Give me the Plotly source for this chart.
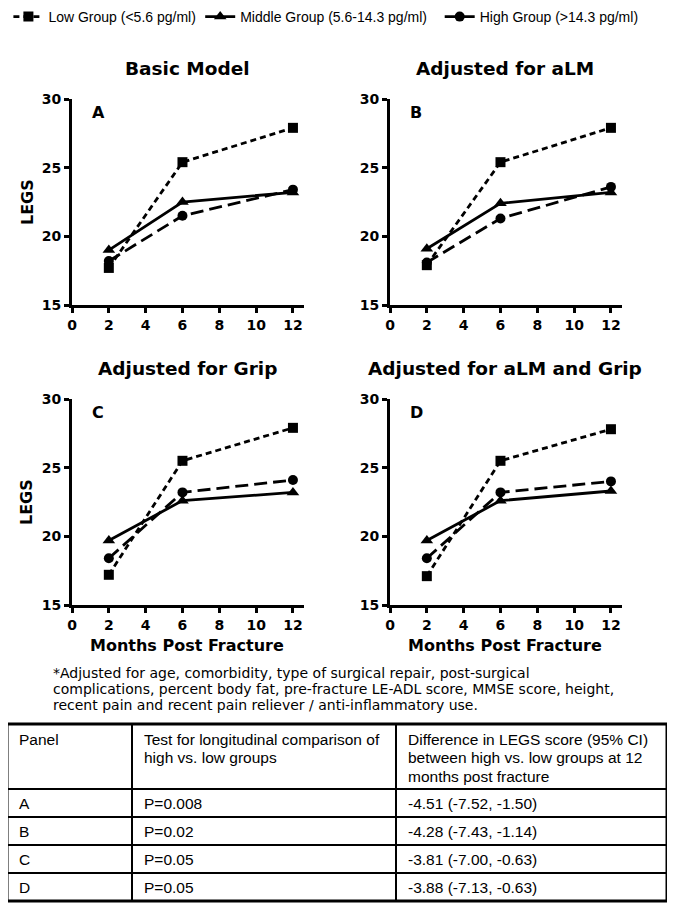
import plotly.graph_objects as go

W, H = 675, 909
OFF = 8  # the page body adds an 8px margin; layout positions below are page pixels

# ---------------- data ----------------
months = [2, 6, 12]
group_names = ["Low Group (<5.6 pg/ml)", "Middle Group (5.6-14.3 pg/ml)", "High Group (>14.3 pg/ml)"]

panel_ids = ["A", "B", "C", "D"]
panel_titles = ["Basic Model", "Adjusted for aLM", "Adjusted for Grip", "Adjusted for aLM and Grip"]

low_A = [17.7, 25.4, 27.9]
mid_A = [19.0, 22.5, 23.2]
high_A = [18.2, 21.5, 23.4]

low_B = [17.9, 25.4, 27.9]
mid_B = [19.1, 22.4, 23.2]
high_B = [18.1, 21.3, 23.6]

low_C = [17.2, 25.5, 27.9]
mid_C = [19.7, 22.6, 23.2]
high_C = [18.4, 23.2, 24.1]

low_D = [17.1, 25.5, 27.8]
mid_D = [19.7, 22.6, 23.3]
high_D = [18.4, 23.2, 24.0]

x_ticks = [0, 2, 4, 6, 8, 10, 12]
y_ticks = [15, 20, 25, 30]

y_title = "LEGS"
x_title = "Months Post Fracture"

footnote_lines = [
    "*Adjusted for age, comorbidity, type of surgical repair, post-surgical",
    "complications, percent body fat, pre-fracture LE-ADL score, MMSE score, height,",
    "recent pain and recent pain reliever / anti-inflammatory use.",
]

table_header = [
    ["Panel"],
    ["Test for longitudinal comparison of", "high vs. low groups"],
    ["Difference in LEGS score (95% CI)", "between high vs. low groups at 12", "months post fracture"],
]
table_panel = ["A", "B", "C", "D"]
table_p = ["P=0.008", "P=0.02", "P=0.05", "P=0.05"]
table_diff = ["-4.51 (-7.52, -1.50)", "-4.28 (-7.43, -1.14)", "-3.81 (-7.00, -0.63)", "-3.88 (-7.13, -0.63)"]

# ---------------- styling ----------------
BOLD = "DejaVu Sans"
REG = "Liberation Sans, Arial, sans-serif"


def px(x):
    return (x - OFF) / W


def py(y):
    return 1 - (y - OFF) / H


series = [
    dict(name=group_names[0], dash="6px,4px", symbol="square", size=10),
    dict(name=group_names[1], dash="solid", symbol="triangle-up", size=11),
    dict(name=group_names[2], dash="13px,6px", symbol="circle", size=10),
]
panel_data = [
    (low_A, mid_A, high_A),
    (low_B, mid_B, high_B),
    (low_C, mid_C, high_C),
    (low_D, mid_D, high_D),
]

# panel pixel boxes: (left, right, top, bottom)
boxes = [(72, 304, 99, 305), (390, 622, 99, 305), (72, 304, 399, 605), (390, 622, 399, 605)]
legend_keys = ["legend", "legend2", "legend3"]

fig = go.Figure()

for p, vals in enumerate(panel_data):
    xa = "x" if p == 0 else f"x{p+1}"
    ya = "y" if p == 0 else f"y{p+1}"
    for k, (s, v) in enumerate(zip(series, vals)):
        fig.add_trace(go.Scatter(
            x=months, y=v, mode="lines+markers", name=s["name"],
            line=dict(color="black", width=2.8, dash=s["dash"]),
            marker=dict(symbol=s["symbol"], size=s["size"], color="black"),
            xaxis=xa, yaxis=ya, showlegend=(p == 0), legend=legend_keys[k],
            cliponaxis=False,
        ))

axis_common = dict(
    showline=True, linewidth=2.8, linecolor="black", mirror=False,
    ticks="outside", ticklen=5, tickwidth=2.8, tickcolor="black",
    showgrid=False, zeroline=False, automargin=False,
    tickfont=dict(family=BOLD, size=14, color="black", weight="bold"),
)

layout = dict(
    width=W, height=H, margin=dict(l=0, r=0, t=0, b=0, autoexpand=False),
    paper_bgcolor="white", plot_bgcolor="white",
)
annotations = []
bold_font = lambda s: dict(family=BOLD, size=s, color="black", weight="bold")
for p, box in enumerate(boxes):
    l, r, t, b = box
    xk = "xaxis" if p == 0 else f"xaxis{p+1}"
    yk = "yaxis" if p == 0 else f"yaxis{p+1}"
    ya = "y" if p == 0 else f"y{p+1}"
    xa = "x" if p == 0 else f"x{p+1}"
    layout[xk] = dict(axis_common, domain=[px(l), px(r)], range=[0, 12.6],
                      tickvals=x_ticks, anchor=ya)
    layout[yk] = dict(axis_common, domain=[py(b), py(t)], range=[15, 30],
                      tickvals=y_ticks, anchor=xa)
    annotations.append(dict(text=panel_titles[p], x=px((l + r) / 2 - 1), y=py(t - 31),
                            xref="paper", yref="paper", showarrow=False,
                            xanchor="center", yanchor="middle", font=bold_font(18.5)))
    annotations.append(dict(text=panel_ids[p], x=px(l + 26), y=py(t + 14),
                            xref="paper", yref="paper", showarrow=False,
                            xanchor="center", yanchor="middle", font=bold_font(16)))
    if p in (0, 2):
        annotations.append(dict(text=y_title, x=px(27), y=py((t + b) / 2),
                                xref="paper", yref="paper", showarrow=False, textangle=-90,
                                xanchor="center", yanchor="middle", font=bold_font(16)))
    if p in (2, 3):
        annotations.append(dict(text=x_title, x=px((l + r) / 2 - 1), y=py(645),
                                xref="paper", yref="paper", showarrow=False,
                                xanchor="center", yanchor="middle", font=bold_font(16)))

for i, line in enumerate(footnote_lines):
    annotations.append(dict(text=line, x=px(51), y=py(673 + 16.2 * i),
                            xref="paper", yref="paper", showarrow=False,
                            xanchor="left", yanchor="middle",
                            font=dict(family="DejaVu Sans", size=14, color="black")))

# ---- table (grid lines as shapes, cell text as annotations) ----
T_L, T_R, T_T, T_B = 7, 667, 724, 901
col_x = [T_L, 132, 396, T_R]
header_h = 65
row_h = 28
row_lines = [T_T + header_h + row_h * i for i in range(4)]
shapes = []
for yl in row_lines:
    shapes.append(dict(type="line", xref="paper", yref="paper", x0=px(T_L), x1=px(T_R),
                       y0=py(yl), y1=py(yl), line=dict(color="black", width=2)))
for xl in col_x[1:3]:
    shapes.append(dict(type="line", xref="paper", yref="paper", x0=px(xl), x1=px(xl),
                       y0=py(T_T), y1=py(T_B), line=dict(color="black", width=2)))
shapes.append(dict(type="rect", xref="paper", yref="paper",
                   x0=px(T_L), x1=px(T_R), y0=py(T_B), y1=py(T_T),
                   line=dict(color="black", width=3), fillcolor="rgba(0,0,0,0)"))

cell_font = dict(family=REG, size=15.5, color="black")
for c, lines in enumerate(table_header):
    for j, txt in enumerate(lines):
        annotations.append(dict(text=txt, x=px(col_x[c] + 9.5), y=py(T_T + 15 + 18.5 * j),
                                xref="paper", yref="paper", showarrow=False,
                                xanchor="left", yanchor="middle", font=cell_font))
for c, col in enumerate([table_panel, table_p, table_diff]):
    for i, txt in enumerate(col):
        annotations.append(dict(text=txt, x=px(col_x[c] + 9.5),
                                y=py(T_T + header_h + row_h * i + row_h / 2),
                                xref="paper", yref="paper", showarrow=False,
                                xanchor="left", yanchor="middle", font=cell_font))

layout["annotations"] = annotations
layout["shapes"] = shapes

# legends (three separate, positioned in pixels)
legend_text_x = [48.7, 240.5, 480]
for key, tx in zip(legend_keys, legend_text_x):
    layout[key] = dict(orientation="h", x=px(tx - 40.3), y=py(17),
                       xanchor="left", yanchor="middle", bgcolor="rgba(0,0,0,0)",
                       font=dict(family=REG, size=14, color="black"),
                       itemwidth=30, borderwidth=0)

fig.update_layout(**layout)
fig.write_html("out.html")
